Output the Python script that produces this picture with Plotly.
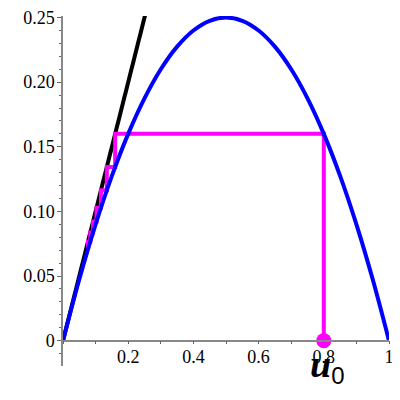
import plotly.graph_objects as go

# Parabola samples (x, f(x))
curve_x = [0, 0.05, 0.1, 0.15, 0.2, 0.25, 0.3, 0.35, 0.4, 0.45, 0.5,
           0.55, 0.6, 0.65, 0.7, 0.75, 0.8, 0.85, 0.9, 0.95, 1.0]
curve_y = [0, 0.0475, 0.09, 0.1275, 0.16, 0.1875, 0.21, 0.2275, 0.24, 0.2475, 0.25,
           0.2475, 0.24, 0.2275, 0.21, 0.1875, 0.16, 0.1275, 0.09, 0.0475, 0]

# Diagonal line y = x
diag_x = [0, 0.26]
diag_y = [0, 0.26]

# Cobweb iterates starting from u0
iterates = [0.8, 0.16, 0.1344, 0.1163, 0.1028, 0.0922, 0.0837, 0.0767, 0.0708]

x_tick_vals = [0.2, 0.4, 0.6, 0.8, 1]
x_tick_text = ["0.2", "0.4", "0.6", "0.8", "1"]
y_tick_vals = [0, 0.05, 0.10, 0.15, 0.20, 0.25]
y_tick_text = ["0", "0.05", "0.10", "0.15", "0.20", "0.25"]

start_label = "u"
start_sub = "0"

# build cobweb path from iterates
cob_x = [iterates[0]]
cob_y = [0]
for i in range(len(iterates) - 1):
    cob_x.append(iterates[i]); cob_y.append(iterates[i + 1])
    if i < len(iterates) - 2:
        cob_x.append(iterates[i + 1]); cob_y.append(iterates[i + 1])

fig = go.Figure()
fig.add_trace(go.Scatter(x=diag_x, y=diag_y, mode="lines",
                         line=dict(color="black", width=4), hoverinfo="skip"))
fig.add_trace(go.Scatter(x=cob_x, y=cob_y, mode="lines",
                         line=dict(color="#ff00ff", width=4), hoverinfo="skip"))
fig.add_trace(go.Scatter(x=curve_x, y=curve_y, mode="lines",
                         line=dict(color="#0000ff", width=4, shape="spline"),
                         hoverinfo="skip"))
fig.add_trace(go.Scatter(x=[iterates[0]], y=[0], mode="markers",
                         marker=dict(color="#ff00ff", size=15),
                         cliponaxis=False, hoverinfo="skip"))

ymin, ymax = -0.0196, 0.2512
axis_font = dict(family="Liberation Serif, Times New Roman, serif", size=18, color="black")

fig.update_layout(
    width=400, height=400,
    margin=dict(l=55, r=19, t=8, b=42),
    paper_bgcolor="white", plot_bgcolor="white",
    showlegend=False,
    xaxis=dict(range=[0, 1], showgrid=False, zeroline=False, automargin=False,
               showline=True, linecolor="#888888", linewidth=1.5,
               anchor="free", position=(0 - ymin) / (ymax - ymin),
               tickvals=x_tick_vals, ticktext=x_tick_text,
               ticks="outside", ticklen=3, tickcolor="#666666", tickwidth=1,
               minor=dict(dtick=0.1, ticks="outside", ticklen=3, tickcolor="#666666"),
               tickfont=axis_font, ticklabelstandoff=-3, ticklabeloverflow="allow"),
    yaxis=dict(range=[ymin, ymax], showgrid=False, zeroline=False, automargin=False,
               showline=True, linecolor="#888888", linewidth=1.5,
               tickvals=y_tick_vals, ticktext=y_tick_text,
               ticks="outside", ticklen=4, tickcolor="#666666", tickwidth=1,
               minor=dict(dtick=0.01, tick0=0, ticks="outside", ticklen=2, tickcolor="#666666"),
               tickfont=axis_font, ticklabelstandoff=-1, ticklabeloverflow="allow"),
)

fig.add_annotation(
    x=0.81, y=0, xref="x", yref="y", xanchor="center", yanchor="middle",
    yshift=-25, showarrow=False,
    text=("<span style='font-family:Liberation Serif;font-size:38px'><b><i>" + start_label +
          "</i></b></span><sub><span style='font-family:Liberation Sans;font-size:24px'>" +
          start_sub + "</span></sub>"),
    font=dict(color="black", size=34),
)

fig.write_html("out.html")
